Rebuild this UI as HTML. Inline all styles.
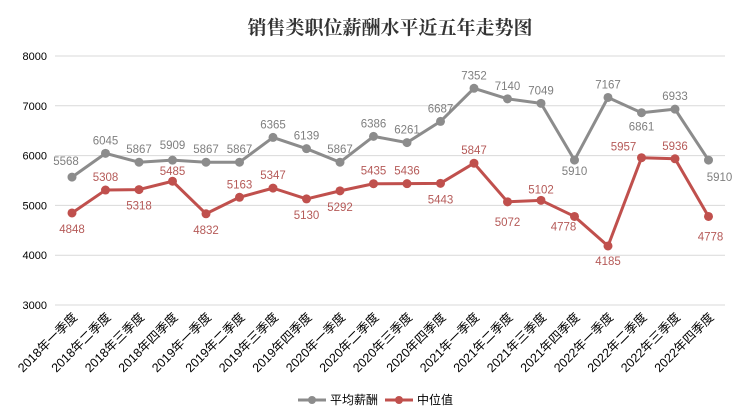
<!DOCTYPE html>
<html><head><meta charset="utf-8"><style>
html,body{margin:0;padding:0;background:#fff}
svg{display:block}
text{font-family:"Liberation Sans","Noto Sans CJK SC",sans-serif}
</style></head><body>
<svg id="c" width="750" height="420" xmlns="http://www.w3.org/2000/svg">
<rect width="750" height="420" fill="#fff"/>
<text x="390" y="34" text-anchor="middle" font-size="19" font-weight="bold" fill="#333" style="font-family:'Liberation Serif','Noto Serif CJK SC',serif">销售类职位薪酬水平近五年走势图</text>
<g id="grid"></g><g id="xl"></g><g id="series"></g>
<g>
<line x1="298" y1="400" x2="326" y2="400" stroke="#8c8c8c" stroke-width="3"/><circle cx="312" cy="400" r="4" fill="#8c8c8c"/>
<text x="330" y="404" font-size="12" fill="#000">平均薪酬</text>
<line x1="385" y1="400" x2="413" y2="400" stroke="#c0504d" stroke-width="3"/><circle cx="399" cy="400" r="4" fill="#c0504d"/>
<text x="417" y="404" font-size="12" fill="#000">中位值</text>
</g>
</svg>
<script>
var NS="http://www.w3.org/2000/svg";
function el(p,t,a,txt){var e=document.createElementNS(NS,t);for(var k in a)e.setAttribute(k,a[k]);if(txt!=null)e.textContent=txt;p.appendChild(e);return e;}
function Y(v){return 56+(8000-v)*0.0498;}
function X(i){return 72+i*33.5;}
var g=document.getElementById('grid');
for(var v=3000;v<=8000;v+=1000){el(g,'line',{x1:55,x2:725,y1:Y(v),y2:Y(v),stroke:'#d9d9d9','stroke-width':1});
el(g,'text',{x:47,y:Y(v)+4,'text-anchor':'end','font-size':11,fill:'#000'},v);}
var q=['一','二','三','四'];var xl=document.getElementById('xl');
for(var i=0;i<20;i++){var yr=2018+Math.floor(i/4);var x=X(i)+6,y=318;
el(xl,'text',{x:x,y:y,'text-anchor':'end','font-size':12.5,fill:'#000',transform:'rotate(-45 '+x+' '+y+')'},yr+'年'+q[i%4]+'季度');}
var gray=[5568,6045,5867,5909,5867,5867,6365,6139,5867,6386,6261,6687,7352,7140,7049,5910,7167,6861,6933,5910];
var red=[4848,5308,5318,5485,4832,5163,5347,5130,5292,5435,5436,5443,5847,5072,5102,4778,4185,5957,5936,4778];
var gOff={0:[-6,-12],3:[0,-11],15:[0,15],17:[0,18],19:[11,21]};
var rOff={1:[0,-9],3:[0,-6],5:[0,-9],6:[0,-9],9:[0,-9],10:[0,-9],12:[0,-9],14:[0,-7],17:[-18,-7],18:[0,-9],15:[-11,14],19:[2,24],13:[0,24],16:[0,19]};
var s=document.getElementById('series');
function draw(d,col,lc,off,def){
var pts=d.map(function(v,i){return X(i)+','+Y(v)}).join(' ');
el(s,'polyline',{points:pts,fill:'none',stroke:col,'stroke-width':3,'stroke-linejoin':'round'});
d.forEach(function(v,i){el(s,'circle',{cx:X(i),cy:Y(v),r:4.5,fill:col});});
d.forEach(function(v,i){var o=off[i]||def;el(s,'text',{x:X(i)+o[0],y:Y(v)+o[1],'text-anchor':'middle','font-size':11.5,fill:lc},v);});
}
draw(gray,'#8c8c8c','#7f7f7f',gOff,[0,-9]);
draw(red,'#c0504d','#b55a58',rOff,[0,20]);
</script>
</body></html>
